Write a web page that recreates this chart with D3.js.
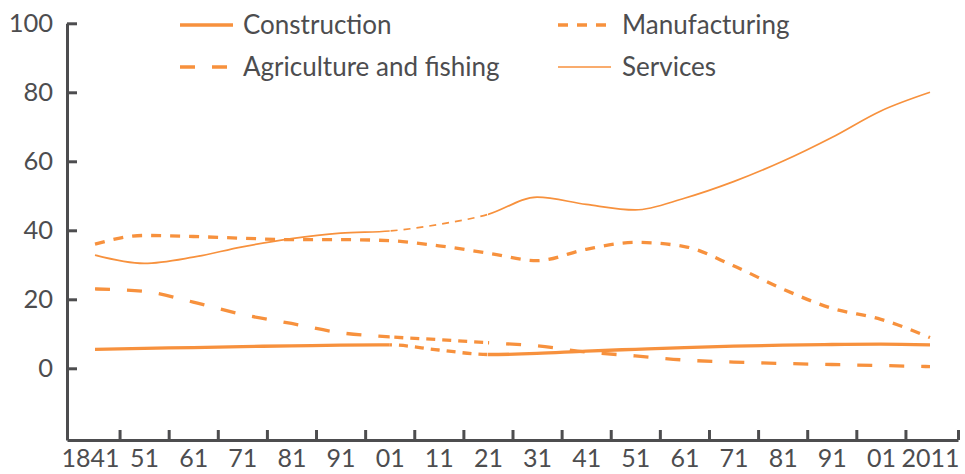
<!DOCTYPE html>
<html><head><meta charset="utf-8">
<script src="https://cdn.jsdelivr.net/npm/d3@7/dist/d3.min.js"></script>
<style>
html,body{margin:0;padding:0;background:#fff;}
svg{display:block;font-family:Lato,"Open Sans",sans-serif;}
</style></head><body>
<svg id="c" width="965" height="474"></svg>
<script>
const years = [1841,1851,1861,1871,1881,1891,1901,1911,1921,1931,1941,1951,1961,1971,1981,1991,2001,2011];
const tickLabels = ["1841","51","61","71","81","91","01","11","21","31","41","51","61","71","81","91","01","2011"];
const construction = [5.5,5.8,6.0,6.3,6.5,6.7,6.8,5.3,4.0,4.3,5.0,5.5,6.0,6.4,6.7,6.9,7.0,6.8];
const agriculture = [23.0,22.3,19.2,15.6,13.0,10.3,9.1,8.3,7.4,6.5,4.7,3.6,2.4,1.8,1.4,1.1,0.8,0.5];
const manufacturing = [36.0,38.5,38.2,37.7,37.3,37.3,37.0,35.5,33.4,31.2,34.5,36.5,35.3,29.7,23.0,17.4,14.2,8.9];
const services = [32.8,30.4,32.2,35.2,37.6,39.2,39.8,41.7,44.6,49.6,47.5,45.9,49.3,54.1,60.0,66.9,74.6,80.0];
const yTicks = [0,20,40,60,80,100];
const gapStart = 1901, gapEnd = 1921;

const ORANGE = "#f7913d", GREY = "#4d4d4f";
const svg = d3.select("#c");

const x = d3.scaleLinear().domain([1841, 2011]).range([95, 930]);
const y = d3.scaleLinear().domain([0, 100]).range([368.3, 23.3]);
const xAxisScale = x.copy().domain([x.invert(67), x.invert(958)]).range([67, 958]);
const yAxisScale = y.copy().domain([y.invert(440), 100]).range([440, 23.3]);

// axes
const tickYears = d3.range(1846, 2007, 10).concat([x.invert(958)]);
const gx = svg.append("g").attr("transform", "translate(0,440)")
  .call(d3.axisBottom(xAxisScale).tickValues(tickYears).tickSize(-10).tickSizeOuter(0).tickFormat(""));
gx.select(".domain").attr("stroke", GREY).attr("stroke-width", 3);
gx.selectAll(".tick line").attr("stroke", GREY).attr("stroke-width", 3);

const gl = svg.append("g").attr("transform", "translate(0,440)")
  .call(d3.axisBottom(x).tickValues(years).tickSize(0).tickFormat((d, i) => tickLabels[i]));
gl.select(".domain").remove();
gl.selectAll("text").attr("fill", GREY).attr("y", 27).attr("dy", null)
  .style("font-size", "25px").style("font-family", "Lato, sans-serif")
  .attr("dx", (d, i) => i === 0 ? -5 : 0);

const gy = svg.append("g").attr("transform", "translate(67,0)")
  .call(d3.axisLeft(yAxisScale).tickValues(yTicks).tickSize(-10).tickSizeOuter(0).tickPadding(14));
gy.select(".domain").attr("stroke", GREY).attr("stroke-width", 3);
gy.selectAll(".tick line").attr("stroke", GREY).attr("stroke-width", 3);
gy.selectAll("text").attr("fill", GREY).style("font-size", "25.5px").style("font-family", "Lato, sans-serif");

// clip regions
const defs = svg.append("defs");
function clip(id, x0, x1) {
  defs.append("clipPath").attr("id", id).append("rect")
    .attr("x", x0).attr("y", 0).attr("width", x1 - x0).attr("height", 474);
}
clip("before", 0, x(gapStart));
clip("gap", x(gapStart), x(gapEnd));
clip("after", x(gapEnd), 965);

const line = d3.line().x((d, i) => x(years[i])).y(d => y(d)).curve(d3.curveMonotoneX);

const series = [
  {name: "Construction", values: construction, w: 3.3, dash: null, gapDash: "9,7", gapW: 3.3},
  {name: "Agriculture and fishing", values: agriculture, w: 3.3, dash: "15,17", gapDash: "9,7", gapW: 3.3},
  {name: "Manufacturing", values: manufacturing, w: 3.3, dash: "10,9", gapDash: "10,9", gapW: 3.3},
  {name: "Services", values: services, w: 1.7, dash: null, gapDash: "7,6", gapW: 1.7}
];

series.forEach(s => {
  ["before", "after"].forEach(c => {
    svg.append("path").attr("d", line(s.values)).attr("fill", "none")
      .attr("stroke", ORANGE).attr("stroke-width", s.w)
      .attr("stroke-dasharray", s.dash).attr("clip-path", `url(#${c})`);
  });
  svg.append("path").attr("d", line(s.values)).attr("fill", "none")
    .attr("stroke", ORANGE).attr("stroke-width", s.gapW)
    .attr("stroke-dasharray", s.gapDash).attr("clip-path", "url(#gap)");
});

// legend
const legend = [
  {s: series[0], lx: 180, tx: 243, yy: 25},
  {s: series[1], lx: 180, tx: 243, yy: 67},
  {s: series[2], lx: 558, tx: 622, yy: 25},
  {s: series[3], lx: 558, tx: 622, yy: 67}
];
legend.forEach(l => {
  svg.append("line").attr("x1", l.lx).attr("x2", l.lx + 53).attr("y1", l.yy).attr("y2", l.yy)
    .attr("stroke", ORANGE).attr("stroke-width", l.s.w).attr("stroke-dasharray", l.s.dash);
  svg.append("text").attr("x", l.tx).attr("y", l.yy).attr("dy", "0.35em")
    .attr("fill", GREY).style("font-size", "26px").text(l.s.name);
});
</script>
</body></html>
